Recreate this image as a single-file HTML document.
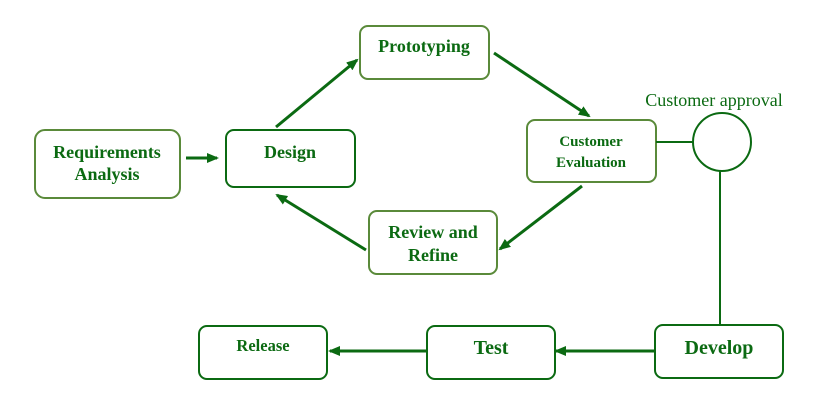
<!DOCTYPE html>
<html><head><style>body{margin:0;background:#fff}svg{display:block}text{font-family:"Liberation Serif",serif;font-weight:bold;font-size:18px;fill:#0b6a12;text-anchor:middle}</style></head><body>
<svg width="827" height="418" viewBox="0 0 827 418">
<defs><marker id="a" markerWidth="12" markerHeight="10" refX="10" refY="5" orient="auto" markerUnits="userSpaceOnUse"><path d="M0,0L12,5L0,10z" fill="#0b6a12"/></marker></defs>
<g fill="none" stroke-width="2">
<rect x="35" y="130" width="145" height="68" rx="10" stroke="#5a8a3a"/>
<rect x="226" y="130" width="129" height="57" rx="8" stroke="#0b6a12"/>
<rect x="360" y="26" width="129" height="53" rx="8" stroke="#5a8a3a"/>
<rect x="527" y="120" width="129" height="62" rx="8" stroke="#5a8a3a"/>
<rect x="369" y="211" width="128" height="63" rx="8" stroke="#5a8a3a"/>
<rect x="655" y="325" width="128" height="53" rx="8" stroke="#0b6a12"/>
<rect x="427" y="326" width="128" height="53" rx="8" stroke="#0b6a12"/>
<rect x="199" y="326" width="128" height="53" rx="8" stroke="#0b6a12"/>
<circle cx="722" cy="142" r="29" stroke="#0b6a12"/>
</g>
<g stroke="#0b6a12" stroke-width="3" fill="none">
<line x1="186" y1="158" x2="217" y2="158" marker-end="url(#a)"/>
<line x1="276" y1="127" x2="357" y2="60" marker-end="url(#a)"/>
<line x1="494" y1="53" x2="589" y2="116" marker-end="url(#a)"/>
<line x1="582" y1="186" x2="500" y2="249" marker-end="url(#a)"/>
<line x1="366" y1="250" x2="277" y2="195" marker-end="url(#a)"/>
<line x1="655" y1="351" x2="556" y2="351" marker-end="url(#a)"/>
<line x1="427" y1="351" x2="330" y2="351" marker-end="url(#a)"/>
</g>
<g stroke="#0b6a12" stroke-width="2">
<line x1="656" y1="142" x2="693" y2="142"/>
<line x1="720" y1="171" x2="720" y2="325"/>
</g>
<text x="107" y="158">Requirements</text><text x="107" y="180">Analysis</text>
<text x="290" y="158">Design</text>
<text x="424" y="52">Prototyping</text>
<text x="591" y="146" style="font-size:15px">Customer</text><text x="591" y="167" style="font-size:15px">Evaluation</text>
<text x="433" y="238">Review and</text><text x="433" y="261">Refine</text>
<text x="719" y="354" style="font-size:20px">Develop</text>
<text x="491" y="354" style="font-size:20px">Test</text>
<text x="263" y="351" style="font-size:16.5px">Release</text>
<text x="714" y="106" style="font-weight:normal;font-size:18px">Customer approval</text>
</svg></body></html>
